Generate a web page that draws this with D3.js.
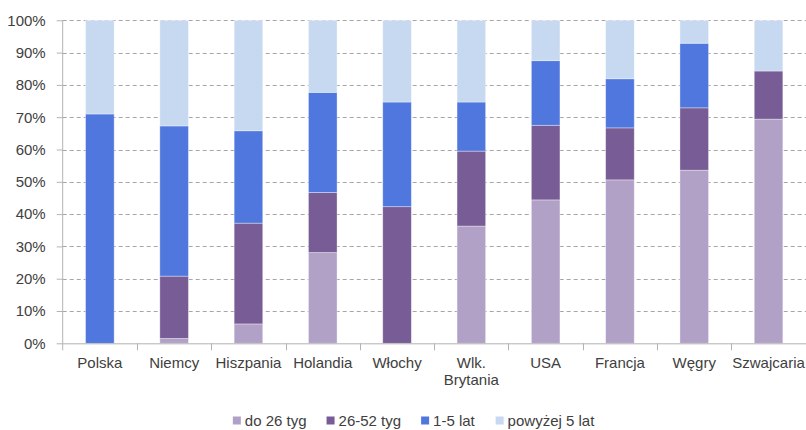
<!DOCTYPE html>
<html>
<head>
<meta charset="utf-8">
<script src="https://cdn.jsdelivr.net/npm/d3@7"></script>
<style>
  html, body { margin: 0; padding: 0; background: #fff; }
  svg { display: block; font-family: "Liberation Sans", Arial, sans-serif; }
</style>
</head>
<body>
<svg id="chart" width="806" height="430"></svg>
<script>
// ---- data ----
const categories = ["Polska", "Niemcy", "Hiszpania", "Holandia", "Włochy", "Wlk. Brytania", "USA", "Francja", "Węgry", "Szwajcaria"];
const seriesNames = ["do 26 tyg", "26-52 tyg", "1-5 lat", "powyżej 5 lat"];
const do26tyg   = [0,    1.5,  6.0,  28.1, 0,    36.3, 44.4, 50.6, 53.6, 69.4];
const tyg26_52  = [0,    19.3, 31.2, 18.6, 42.3, 23.2, 23.1, 16.1, 19.3, 14.9];
const lat1_5    = [71.0, 46.5, 28.6, 31.0, 32.4, 15.2, 20.0, 15.2, 20.0, 0];
const powyzej5  = [29.0, 32.7, 34.2, 22.3, 25.3, 25.3, 12.5, 18.1, 7.1,  15.7];
const yTicks = [0, 10, 20, 30, 40, 50, 60, 70, 80, 90, 100];
const colors = ["#b2a1c7", "#775c96", "#4f77de", "#c6d9f1"];

// ---- build table ----
const seriesValues = [do26tyg, tyg26_52, lat1_5, powyzej5];
const table = categories.map((c, i) => {
  const row = { category: c };
  seriesNames.forEach((s, j) => row[s] = seriesValues[j][i]);
  return row;
});
const stacked = d3.stack().keys(seriesNames)(table);

// ---- layout ----
const svg = d3.select("#chart");
const mLeft = 62.7, mRight = 805.7, mTop = 20.3, mBottom = 343.3;
const textColor = "#404040";
const font = 15;

const x = d3.scaleBand().domain(categories).range([mLeft, mRight])
  .paddingInner(0.615).paddingOuter(0.3075);
const xCell = d3.scaleBand().domain(categories).range([mLeft, mRight]).padding(0);
const y = d3.scaleLinear().domain([0, 100]).range([mBottom, mTop]);
const color = d3.scaleOrdinal().domain(seriesNames).range(colors);

// gridlines
svg.append("g").selectAll("line").data(yTicks.filter(t => t > 0)).join("line")
  .attr("x1", mLeft).attr("x2", 806)
  .attr("y1", d => Math.round(y(d)) + 0.5).attr("y2", d => Math.round(y(d)) + 0.5)
  .attr("stroke", "#a6a6a6").attr("stroke-width", 1)
  .attr("stroke-dasharray", "4,3");

// bars
svg.append("g").selectAll("g").data(stacked).join("g")
  .attr("fill", d => color(d.key))
  .selectAll("rect").data(d => d).join("rect")
  .attr("x", d => x(d.data.category))
  .attr("width", x.bandwidth())
  .attr("y", d => y(d[1]))
  .attr("height", d => Math.max(0, y(d[0]) - y(d[1])))
  .attr("stroke", d => (d[1] - d[0]) > 0 ? "rgba(255,255,255,0.45)" : "none")
  .attr("stroke-width", 0.8);

// y axis
const yAxis = d3.axisLeft(y).tickValues(yTicks).tickFormat(d => d + "%")
  .tickSize(6).tickPadding(11);
const gy = svg.append("g").attr("transform", `translate(${mLeft},0)`).call(yAxis);
gy.select(".domain").attr("stroke", "#b3b3b3").attr("d", `M0,${mTop}V${mBottom + 7}`);
gy.selectAll(".tick line").attr("stroke", "#b3b3b3");
gy.selectAll(".tick text").attr("fill", textColor)
  .style("font-size", font + "px").style("font-family", "Liberation Sans, Arial, sans-serif");

// x axis line + boundary ticks
svg.append("line").attr("x1", mLeft).attr("x2", 806)
  .attr("y1", mBottom + 0.5).attr("y2", mBottom + 0.5).attr("stroke", "#b3b3b3");
svg.append("g").selectAll("line").data(categories.slice(1)).join("line")
  .attr("x1", d => Math.round(xCell(d)) + 0.5).attr("x2", d => Math.round(xCell(d)) + 0.5)
  .attr("y1", mBottom).attr("y2", mBottom + 7).attr("stroke", "#b3b3b3");

// x labels
const xl = svg.append("g").selectAll("text").data(categories).join("text")
  .attr("x", d => x(d) + x.bandwidth() / 2)
  .attr("y", 368.3)
  .attr("text-anchor", "middle")
  .attr("fill", textColor)
  .style("font-size", font + "px");
xl.each(function(d) {
  const t = d3.select(this);
  t.text(d);
  if (this.getComputedTextLength() > xCell.bandwidth() - 2 && d.includes(" ")) {
    t.text(null);
    const parts = d.split(" ");
    parts.forEach((p, i) => {
      t.append("tspan").attr("x", x(d) + x.bandwidth() / 2)
        .attr("dy", i === 0 ? 0 : 17).text(p);
    });
  }
});

// legend
const legend = svg.append("g");
const items = legend.selectAll("g").data(seriesNames).join("g");
items.append("rect").attr("width", 8).attr("height", 8).attr("y", 416.5)
  .attr("fill", d => color(d));
items.append("text").attr("x", 12).attr("y", 426)
  .attr("fill", textColor).style("font-size", font + "px").text(d => d);
const widths = [];
items.each(function() { widths.push(this.getBBox().width); });
const gap = 20;
const total = d3.sum(widths) + gap * (widths.length - 1);
let cx = 414 - total / 2;
items.each(function(d, i) {
  d3.select(this).attr("transform", `translate(${cx},0)`);
  cx += widths[i] + gap;
});
</script>
</body>
</html>
